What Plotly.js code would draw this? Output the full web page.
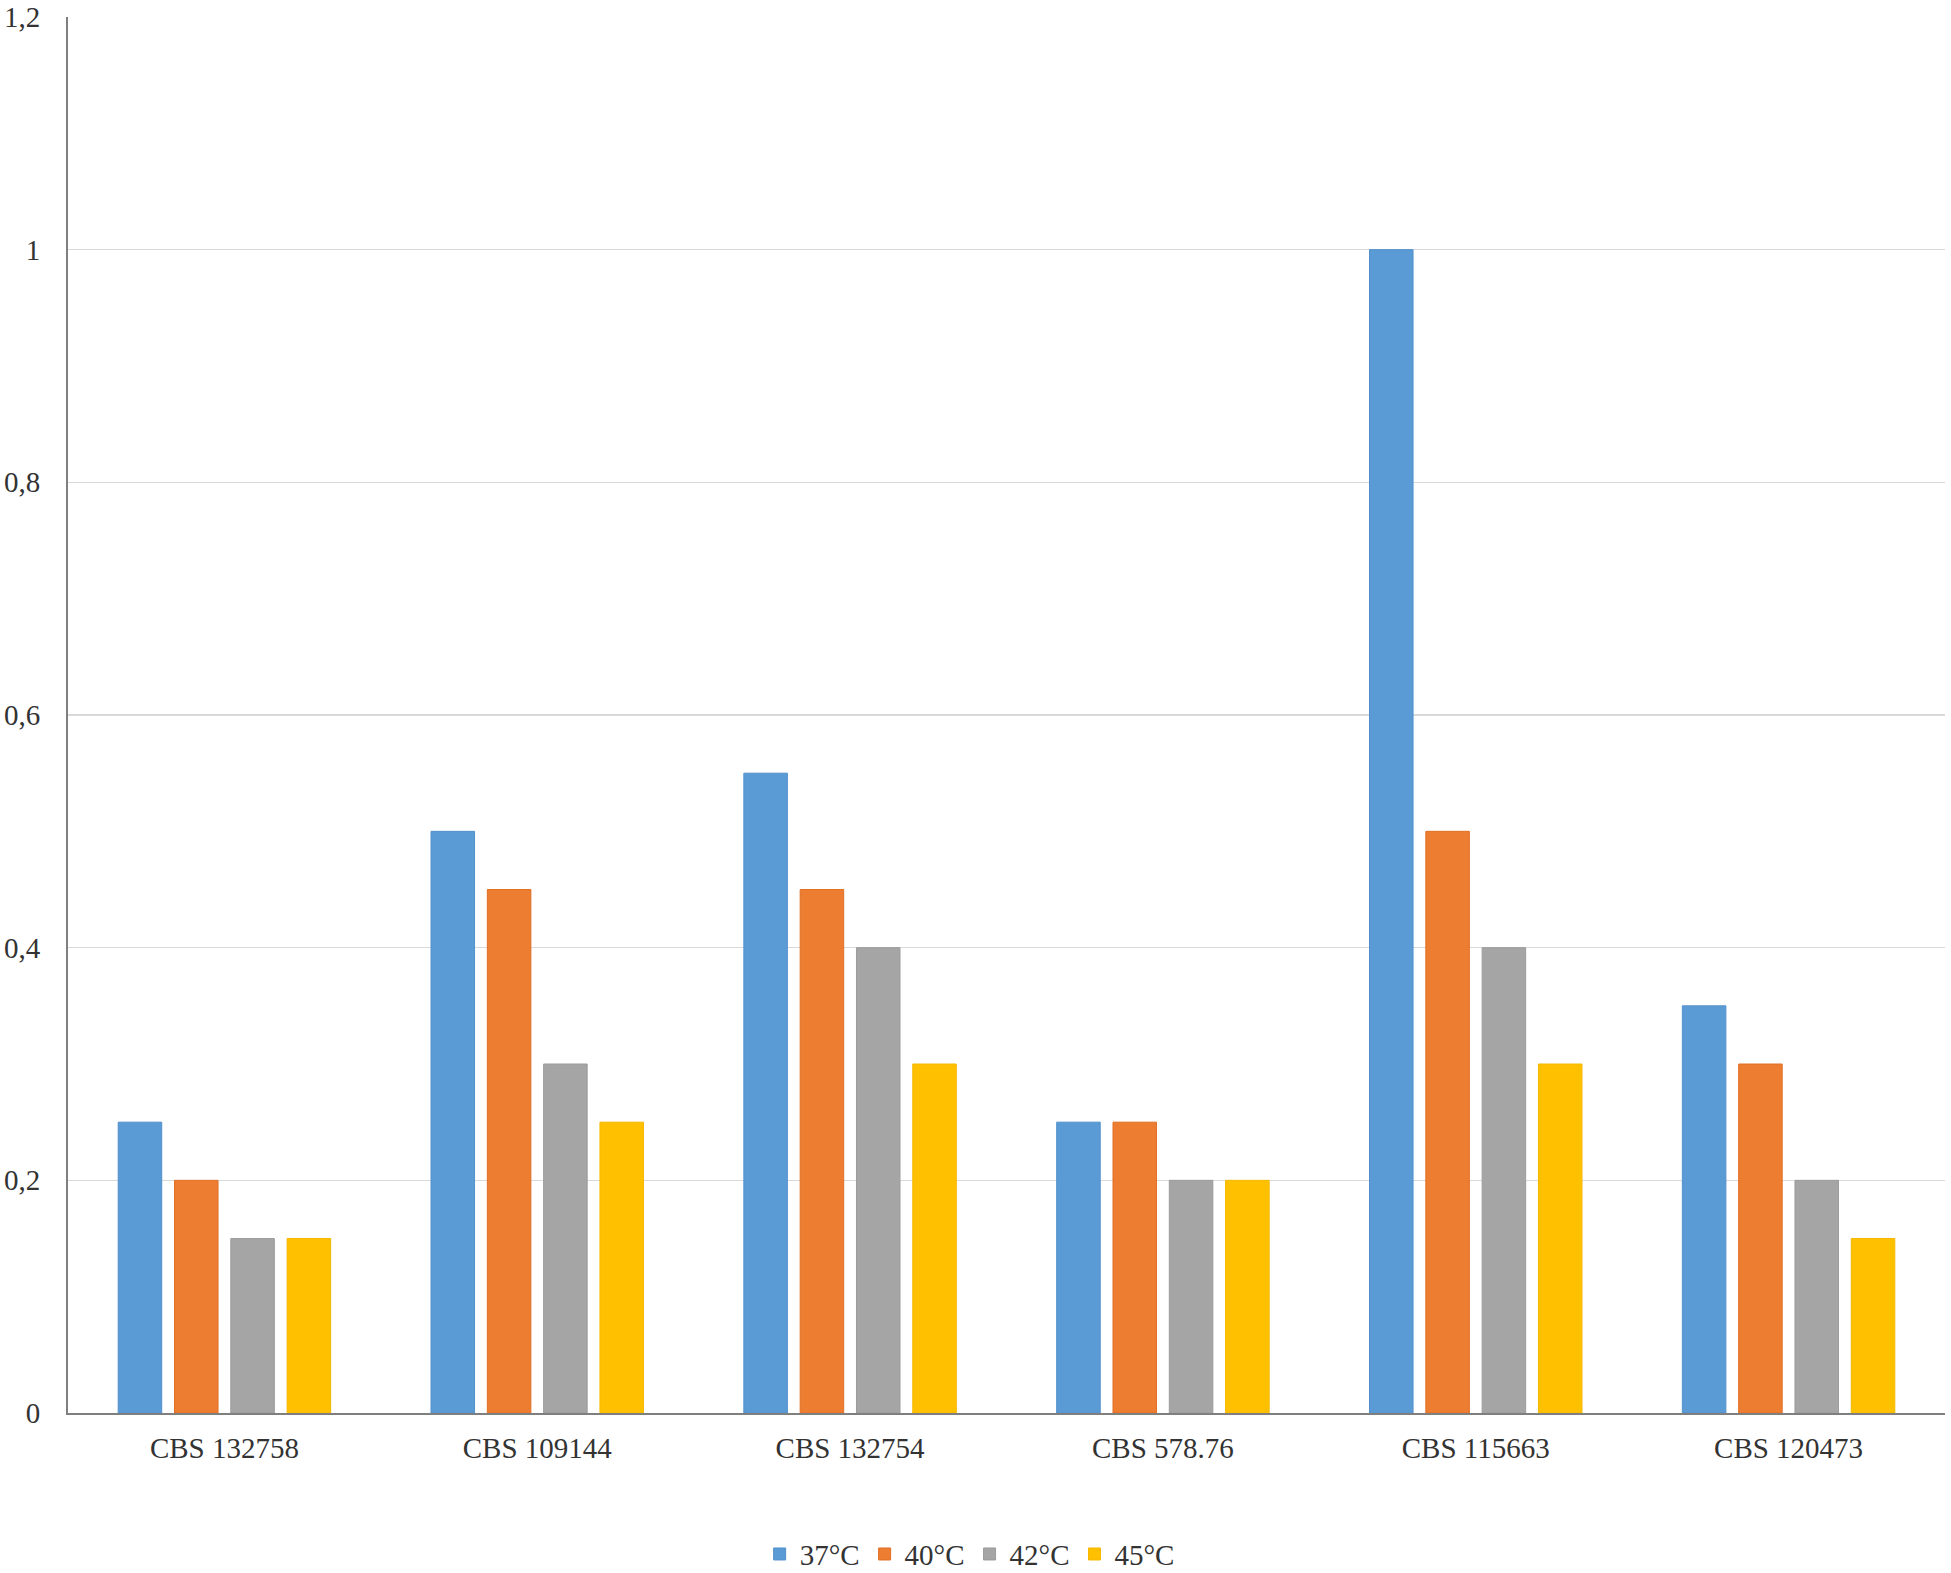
<!DOCTYPE html>
<html>
<head>
<meta charset="utf-8">
<script src="https://cdn.plot.ly/plotly-3.0.1.min.js"></script>
<style>html,body{margin:0;padding:0;background:#fff;}#chart{width:1951px;height:1573px;}</style>
</head>
<body>
<div id="chart"></div>
<script>
const categories = ["CBS 132758", "CBS 109144", "CBS 132754", "CBS 578.76", "CBS 115663", "CBS 120473"];
const seriesNames = ["37°C", "40°C", "42°C", "45°C"];
const v37 = [0.25, 0.50, 0.55, 0.25, 1.00, 0.35];
const v40 = [0.20, 0.45, 0.45, 0.25, 0.50, 0.30];
const v42 = [0.15, 0.30, 0.40, 0.20, 0.40, 0.20];
const v45 = [0.15, 0.25, 0.30, 0.20, 0.30, 0.15];
const yTicks = [0, 0.2, 0.4, 0.6, 0.8, 1, 1.2];
const yTickLabels = ["0", "0,2", "0,4", "0,6", "0,8", "1", "1,2"];

const colors = ["#5B9BD5", "#ED7D31", "#A5A5A5", "#FFC000"];
const edges = ["#5290CB", "#E07024", "#9C9C9C", "#F5B800"];
const values = [v37, v40, v42, v45];

const traces = values.map((vals, i) => ({
  type: "bar",
  name: seriesNames[i],
  x: categories,
  y: vals,
  marker: {color: colors[i], line: {color: edges[i], width: 1}},
  hoverinfo: "x+y+name"
}));

const font = {family: "Liberation Serif, Times New Roman, serif", size: 29, color: "#333333"};

const layout = {
  width: 1951,
  height: 1573,
  margin: {l: 68, r: 6, t: 17, b: 160, autoexpand: false},
  paper_bgcolor: "#ffffff",
  plot_bgcolor: "#ffffff",
  font: font,
  barmode: "group",
  bargap: 0.28,
  bargroupgap: 0.227,
  showlegend: true,
  legend: {
    orientation: "h",
    xref: "container", yref: "container",
    x: 0.497, xanchor: "center",
    y: 0.012, yanchor: "middle",
    font: font,
    itemwidth: 30,
    traceorder: "normal"
  },
  xaxis: {
    type: "category",
    automargin: false,
    showgrid: false,
    showline: true,
    linecolor: "#7F7F7F",
    linewidth: 2,
    ticks: "",
    tickfont: font,
    ticklabelstandoff: 8,
    zeroline: false
  },
  yaxis: {
    automargin: false,
    range: [0, 1.2],
    tickvals: yTicks,
    ticktext: yTickLabels,
    showgrid: true,
    gridcolor: "#D9D9D9",
    gridwidth: 1.5,
    showline: true,
    linecolor: "#7F7F7F",
    linewidth: 2,
    ticks: "",
    tickfont: font,
    ticklabelstandoff: 20,
    zeroline: false
  }
};

Plotly.newPlot("chart", traces, layout, {displayModeBar: false, staticPlot: true});
</script>
</body>
</html>
